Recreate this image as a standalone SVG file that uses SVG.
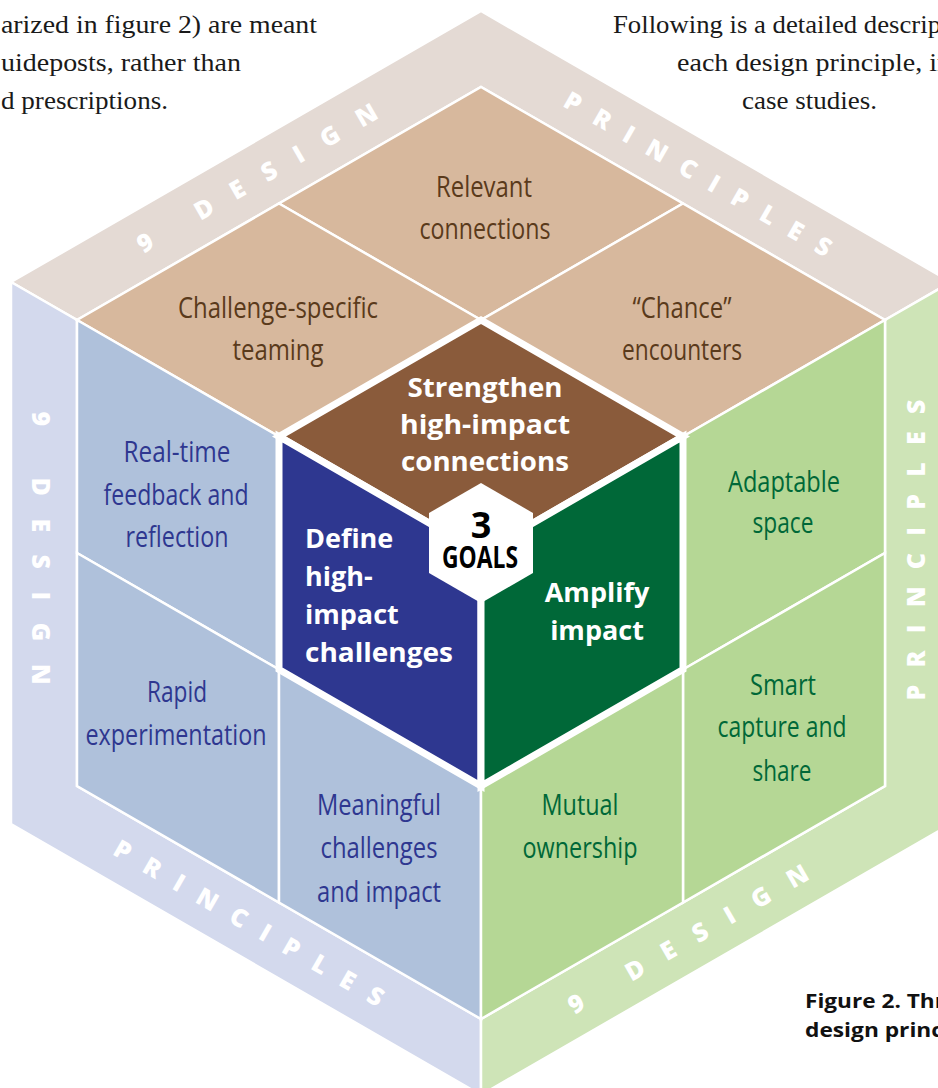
<svg xmlns="http://www.w3.org/2000/svg" width="938" height="1088" viewBox="0 0 938 1088">
<style>
.bg{fill:#ffffff}
.band,.tile{stroke:#ffffff;stroke-width:2.5;stroke-linejoin:miter}
.goal{stroke:#ffffff;stroke-width:7;stroke-linejoin:miter}
.bandT{fill:#e4dad4}.bandL{fill:#d3d9ed}.bandR{fill:#cee4b7}
.tT{fill:#d7b89d}.tL{fill:#afc1db}.tR{fill:#b5d795}
.gB{fill:#8a5b3b}.gL{fill:#2e3790}.gG{fill:#006838}
.lab{font-family:'Open Sans','Noto Sans',sans-serif;font-size:29px;text-anchor:middle}
.cT{fill:#5a3a1b}.cL{fill:#2e3790}.cR{fill:#006838}
.gtx{font-family:'Open Sans','Noto Sans',sans-serif;font-size:27px;font-weight:bold;fill:#ffffff}
.bl{font-family:'Open Sans','Noto Sans',sans-serif;font-size:25px;font-weight:800;fill:#ffffff;text-anchor:middle}
.para{font-family:'Liberation Serif',serif;font-size:25px;fill:#1a1a1a}
.cap{font-family:'Open Sans','Noto Sans',sans-serif;font-size:20px;font-weight:bold;fill:#111111}
</style>
<rect class="bg" x="0" y="0" width="938" height="1088"/>

<g id="paragraphs">
<text class="para" x="1" y="33" textLength="316" lengthAdjust="spacingAndGlyphs">arized in figure 2) are meant</text>
<text class="para" x="1" y="71" textLength="240" lengthAdjust="spacingAndGlyphs">uideposts, rather than</text>
<text class="para" x="1" y="109" textLength="167" lengthAdjust="spacingAndGlyphs">d prescriptions.</text>
<text class="para" x="613" y="33" textLength="328" lengthAdjust="spacingAndGlyphs">Following is a detailed descrip</text>
<text class="para" x="677" y="71" textLength="274" lengthAdjust="spacingAndGlyphs">each design principle, in</text>
<text class="para" x="742" y="109" textLength="135" lengthAdjust="spacingAndGlyphs">case studies.</text>
</g>

<g id="bands">
<polygon id="band-top" class="band bandT" points="11,282 481,11 951,282 885,320 481,87 77,320"/>
<polygon id="band-left" class="band bandL" points="11,282 77,320 77,786 481,1019 481,1095 11,824"/>
<polygon id="band-right" class="band bandR" points="951,282 951,824 481,1095 481,1019 885,786 885,320"/>
<text class="bl" x="257" y="178" dy="9" transform="rotate(-30 257 178)" textLength="273" lengthAdjust="spacing">9 DESIGN</text>
<text class="bl" x="698" y="174" dy="9" transform="rotate(30 698 174)" textLength="304" lengthAdjust="spacing">PRINCIPLES</text>
<text class="bl" x="41" y="548" dy="9" transform="rotate(90 41 548)" textLength="273" lengthAdjust="spacing">9 DESIGN</text>
<text class="bl" x="916" y="550" dy="9" transform="rotate(-90 916 550)" textLength="301" lengthAdjust="spacing">PRINCIPLES</text>
<text class="bl" x="249" y="923" dy="9" transform="rotate(30 249 923)" textLength="307" lengthAdjust="spacing">PRINCIPLES</text>
<text class="bl" x="688" y="939" dy="9" transform="rotate(-30 688 939)" textLength="273" lengthAdjust="spacing">9 DESIGN</text>
</g>

<g id="connectors"></g>

<g id="relevant-connections">
<polygon class="tile tT" points="481,87 683,203.5 481,320 279,203.5"/>
<text class="lab cT" x="484" y="197" textLength="96" lengthAdjust="spacingAndGlyphs">Relevant</text>
<text class="lab cT" x="485" y="239" textLength="131" lengthAdjust="spacingAndGlyphs">connections</text>
</g>
<g id="challenge-specific-teaming">
<polygon class="tile tT" points="279,203.5 481,320 279,436.5 77,320"/>
<text class="lab cT" x="278" y="318" textLength="200" lengthAdjust="spacingAndGlyphs">Challenge-specific</text>
<text class="lab cT" x="278" y="360" textLength="91" lengthAdjust="spacingAndGlyphs">teaming</text>
</g>
<g id="chance-encounters">
<polygon class="tile tT" points="683,203.5 885,320 683,436.5 481,320"/>
<text class="lab cT" x="682" y="318" textLength="99" lengthAdjust="spacingAndGlyphs">“Chance”</text>
<text class="lab cT" x="682" y="360" textLength="120" lengthAdjust="spacingAndGlyphs">encounters</text>
</g>
<g id="real-time-feedback">
<polygon class="tile tL" points="77,320 279,436.5 279,669.5 77,553"/>
<text class="lab cL" x="177" y="462" textLength="107" lengthAdjust="spacingAndGlyphs">Real-time</text>
<text class="lab cL" x="176" y="505" textLength="145" lengthAdjust="spacingAndGlyphs">feedback and</text>
<text class="lab cL" x="177" y="547" textLength="103" lengthAdjust="spacingAndGlyphs">reflection</text>
</g>
<g id="rapid-experimentation">
<polygon class="tile tL" points="77,553 279,669.5 279,902.5 77,786"/>
<text class="lab cL" x="177" y="702" textLength="60" lengthAdjust="spacingAndGlyphs">Rapid</text>
<text class="lab cL" x="176" y="745" textLength="181" lengthAdjust="spacingAndGlyphs">experimentation</text>
</g>
<g id="meaningful-challenges">
<polygon class="tile tL" points="279,669.5 481,786 481,1019 279,902.5"/>
<text class="lab cL" x="379" y="815" textLength="124" lengthAdjust="spacingAndGlyphs">Meaningful</text>
<text class="lab cL" x="379" y="858" textLength="117" lengthAdjust="spacingAndGlyphs">challenges</text>
<text class="lab cL" x="379" y="902" textLength="124" lengthAdjust="spacingAndGlyphs">and impact</text>
</g>
<g id="adaptable-space">
<polygon class="tile tR" points="683,436.5 885,320 885,553 683,669.5"/>
<text class="lab cR" x="784" y="492" textLength="112" lengthAdjust="spacingAndGlyphs">Adaptable</text>
<text class="lab cR" x="783" y="533" textLength="61" lengthAdjust="spacingAndGlyphs">space</text>
</g>
<g id="smart-capture">
<polygon class="tile tR" points="683,669.5 885,553 885,786 683,902.5"/>
<text class="lab cR" x="783" y="695" textLength="66" lengthAdjust="spacingAndGlyphs">Smart</text>
<text class="lab cR" x="782" y="737" textLength="129" lengthAdjust="spacingAndGlyphs">capture and</text>
<text class="lab cR" x="782" y="781" textLength="59" lengthAdjust="spacingAndGlyphs">share</text>
</g>
<g id="mutual-ownership">
<polygon class="tile tR" points="481,786 683,669.5 683,902.5 481,1019"/>
<text class="lab cR" x="580" y="815" textLength="77" lengthAdjust="spacingAndGlyphs">Mutual</text>
<text class="lab cR" x="580" y="858" textLength="115" lengthAdjust="spacingAndGlyphs">ownership</text>
</g>

<g id="goal-strengthen">
<polygon class="goal gB" points="481,320 683,436.5 481,553 279,436.5"/>
</g>
<g id="goal-define">
<polygon class="goal gL" points="279,436.5 481,553 481,786 279,669.5"/>
</g>
<g id="goal-amplify">
<polygon class="goal gG" points="481,553 683,436.5 683,669.5 481,786"/>
</g>
<g id="goal-labels">
<text class="gtx" x="485" y="397" text-anchor="middle" textLength="155" lengthAdjust="spacingAndGlyphs">Strengthen</text>
<text class="gtx" x="485" y="434" text-anchor="middle" textLength="170" lengthAdjust="spacingAndGlyphs">high-impact</text>
<text class="gtx" x="485" y="471" text-anchor="middle" textLength="168" lengthAdjust="spacingAndGlyphs">connections</text>
<text class="gtx" x="305" y="548">Define</text>
<text class="gtx" x="305" y="586">high-</text>
<text class="gtx" x="305" y="624">impact</text>
<text class="gtx" x="305" y="662" textLength="148" lengthAdjust="spacingAndGlyphs">challenges</text>
<text class="gtx" x="597" y="602" text-anchor="middle">Amplify</text>
<text class="gtx" x="597" y="640" text-anchor="middle">impact</text>
</g>
<g id="three-goals">
<polygon fill="#ffffff" points="481,483 533,513 533,573 481,603 429,573 429,513"/>
<text text-anchor="middle" font-family="'Open Sans','Noto Sans',sans-serif" font-weight="bold" fill="#000000"><tspan x="481" y="538" font-size="36">3</tspan><tspan x="480" y="568" font-size="31" textLength="76" lengthAdjust="spacingAndGlyphs">GOALS</tspan></text>
</g>

<g id="caption">
<text class="cap" x="805" y="1008" textLength="140" lengthAdjust="spacingAndGlyphs">Figure 2. Thr</text>
<text class="cap" x="805" y="1037" textLength="138" lengthAdjust="spacingAndGlyphs">design princ</text>
</g>
</svg>
